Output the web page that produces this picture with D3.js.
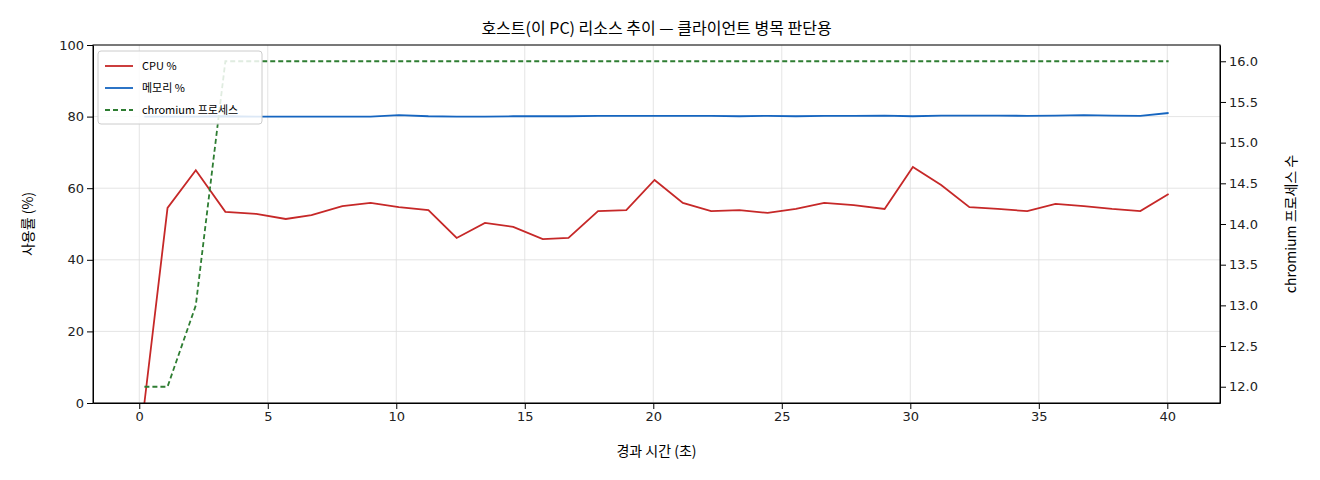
<!DOCTYPE html>
<html><head><meta charset="utf-8">
<script src="https://cdn.jsdelivr.net/npm/d3@7"></script>
<style>body{margin:0;background:#fff;font-family:"Noto Sans CJK KR","DejaVu Sans",sans-serif;}</style>
</head><body><div class="canvas"></div>
<script>
const times = [0.2,1.1,2.2,3.35,4.55,5.7,6.7,7.9,9.0,10.1,11.25,12.35,13.45,14.55,15.7,16.7,17.85,18.95,20.05,21.15,22.25,23.35,24.45,25.55,26.65,27.8,29.0,30.1,31.2,32.3,33.4,34.55,35.65,36.75,37.85,38.95,40.05];
const cpu = [0,54.5,65,53.4,52.8,51.4,52.5,55,55.9,54.7,53.9,46.1,50.3,49.2,45.8,46.1,53.6,53.9,62.3,55.9,53.6,53.9,53.1,54.2,55.9,55.3,54.2,65.9,60.9,54.7,54.2,53.6,55.6,55,54.2,53.6,58.4];
const mem = [80,80,80,80.1,80,80,80,80,80,80.4,80.1,80,80,80.1,80.1,80.1,80.2,80.2,80.2,80.2,80.2,80.1,80.2,80.1,80.2,80.2,80.3,80.1,80.3,80.3,80.3,80.2,80.3,80.4,80.3,80.2,81];
const procs = [12,12,13,16,16,16,16,16,16,16,16,16,16,16,16,16,16,16,16,16,16,16,16,16,16,16,16,16,16,16,16,16,16,16,16,16,16];
const xTicks = [0,5,10,15,20,25,30,35,40];
const yTicks = [0,20,40,60,80,100];
const y2Ticks = [12.0,12.5,13.0,13.5,14.0,14.5,15.0,15.5,16.0];

const W = 1320, H = 480, m = {l:93, r:100, t:45, b:77};
const svg = d3.select(".canvas").append("svg").attr("width", W).attr("height", H);
const x = d3.scaleLinear().domain([-1.8, 42.05]).range([m.l, W - m.r]);
const y = d3.scaleLinear().domain([0, 100]).range([H - m.b, m.t]);
const y2 = d3.scaleLinear().domain([11.8, 16.2]).range([H - m.b, m.t]);

const g = svg.append("g");
// grid
g.selectAll(".gx").data(xTicks).enter().append("line")
  .attr("x1", d => x(d)).attr("x2", d => x(d)).attr("y1", m.t).attr("y2", H - m.b)
  .attr("stroke", "#ddd").attr("stroke-width", 0.8);
g.selectAll(".gy").data(yTicks).enter().append("line")
  .attr("x1", m.l).attr("x2", W - m.r).attr("y1", d => y(d)).attr("y2", d => y(d))
  .attr("stroke", "#ddd").attr("stroke-width", 0.8);

const line = (vals, sc) => d3.line().x((d, i) => x(times[i])).y(d => sc(d))(vals);
svg.append("path").attr("d", line(cpu, y)).attr("fill", "none").attr("stroke", "#c62828").attr("stroke-width", 1.8);
svg.append("path").attr("d", line(mem, y)).attr("fill", "none").attr("stroke", "#1565c0").attr("stroke-width", 1.8);
svg.append("path").attr("d", line(procs, y2)).attr("fill", "none").attr("stroke", "#2e7d32").attr("stroke-width", 1.8).attr("stroke-dasharray", "5,3");

const fmt = sel => sel.call(s => s.selectAll("text").attr("font-size", 13).attr("fill", "#222").attr("font-family", "DejaVu Sans"));
svg.append("g").attr("transform", `translate(0,${H - m.b})`).call(d3.axisBottom(x).tickValues(xTicks).tickSizeOuter(0)).call(fmt);
svg.append("g").attr("transform", `translate(${m.l},0)`).call(d3.axisLeft(y).tickValues(yTicks).tickSizeOuter(0)).call(fmt);
svg.append("g").attr("transform", `translate(${W - m.r},0)`).call(d3.axisRight(y2).tickValues(y2Ticks).tickFormat(d3.format(".1f")).tickSizeOuter(0)).call(fmt);
svg.append("rect").attr("x", m.l).attr("y", m.t).attr("width", W - m.r - m.l).attr("height", H - m.b - m.t)
  .attr("fill", "none").attr("stroke", "#000").attr("stroke-width", 1);

svg.append("text").attr("x", (m.l + W - m.r) / 2).attr("y", 34).attr("text-anchor", "middle").attr("font-size", 16)
  .text("호스트(이 PC) 리소스 추이 — 클라이언트 병목 판단용");
svg.append("text").attr("x", (m.l + W - m.r) / 2).attr("y", 456).attr("text-anchor", "middle").attr("font-size", 14).text("경과 시간 (초)");
svg.append("text").attr("transform", `translate(33,${(m.t + H - m.b) / 2}) rotate(-90)`).attr("text-anchor", "middle").attr("font-size", 14).text("사용률 (%)");
svg.append("text").attr("transform", `translate(1296,${(m.t + H - m.b) / 2}) rotate(-90)`).attr("text-anchor", "middle").attr("font-size", 14).text("chromium 프로세스 수");

// legend
const leg = svg.append("g").attr("transform", "translate(98,51)");
leg.append("rect").attr("width", 164).attr("height", 73).attr("rx", 3).attr("fill", "#fff").attr("fill-opacity", 0.85).attr("stroke", "#ccc");
const items = [["CPU %", "#c62828", null], ["메모리 %", "#1565c0", null], ["chromium 프로세스", "#2e7d32", "5,3"]];
items.forEach((it, i) => {
  const yy = 15 + i * 22;
  leg.append("line").attr("x1", 7).attr("x2", 35).attr("y1", yy).attr("y2", yy).attr("stroke", it[1]).attr("stroke-width", 1.8).attr("stroke-dasharray", it[2]);
  leg.append("text").attr("x", 44).attr("y", yy + 4).attr("font-size", 11).text(it[0]);
});
</script></body></html>
